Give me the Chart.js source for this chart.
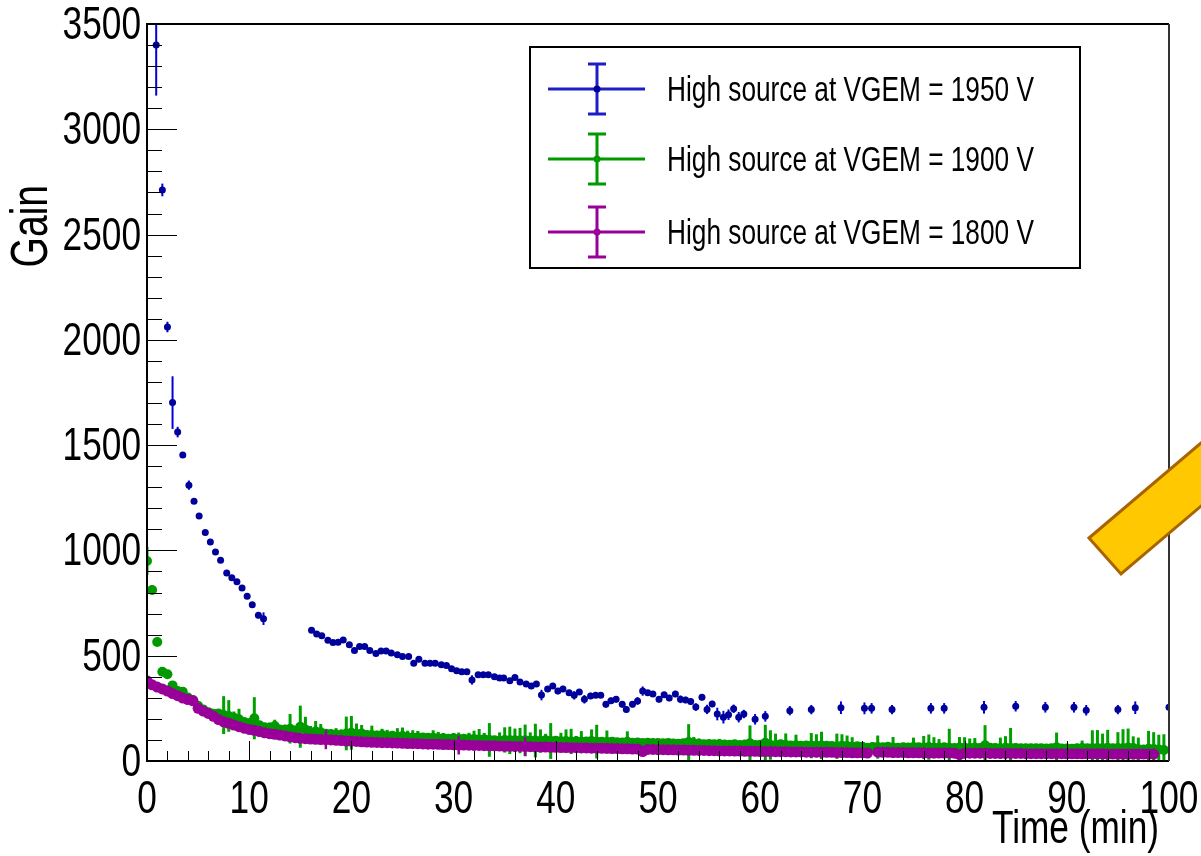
<!DOCTYPE html>
<html>
<head>
<meta charset="utf-8">
<script src="https://cdn.jsdelivr.net/npm/chart.js@4.4.1/dist/chart.umd.min.js"></script>
<style>
  html, body { margin: 0; padding: 0; background: #fff; }
  canvas { display: block; }
</style>
</head>
<body>
<canvas id="gainChart" width="1201" height="856"></canvas>
<script>
const FONT = '"Liberation Sans", Arial, sans-serif';
const NARROW = 0.75; // squeeze Liberation Sans to look like the narrow ROOT font

const seriesLabels = ['High source at VGEM = 1950 V', 'High source at VGEM = 1900 V', 'High source at VGEM = 1800 V'];
const xTicks = [0, 10, 20, 30, 40, 50, 60, 70, 80, 90, 100];
const yTicks = [0, 500, 1000, 1500, 2000, 2500, 3000, 3500];

// 1950 V
const time1950 = [0.9, 1.5, 2.0, 2.5, 3.0, 3.5, 4.1, 4.6, 5.1, 5.7, 6.2, 6.7, 7.2, 7.8, 8.3, 8.8, 9.3, 9.8, 10.3, 10.9, 11.4,
  16.1, 16.6, 17.1, 17.7, 18.2, 18.7, 19.2, 19.8, 20.3, 20.8, 21.3, 21.8, 22.4, 22.9, 23.4, 23.9, 24.5, 25.0, 25.6, 26.1,
  26.6, 27.2, 27.7, 28.2, 28.8, 29.3, 29.8, 30.3, 30.8, 31.3, 31.8, 32.4, 32.9, 33.4, 34.0, 34.5, 34.9, 35.5, 36.0, 36.5,
  37.1, 37.6, 38.1, 38.6, 39.2, 39.7, 40.2, 40.7, 41.3, 41.8, 42.3, 42.8, 43.4, 43.9, 44.4, 44.9, 45.4, 45.9, 46.5, 46.9,
  47.5, 48.0, 48.5, 49.0, 49.5, 50.1, 50.6, 51.1, 51.7, 52.2, 52.7, 53.2, 53.7, 54.3, 54.8, 55.3, 55.8, 56.4, 56.9, 57.4,
  57.9, 58.4, 59.5, 60.5,
  62.9, 65.0, 67.9, 70.2, 70.9, 72.9, 76.7, 78.0, 81.9, 85.0, 87.9, 90.7, 91.9, 95.0, 96.7, 100.0];
const gain1950 = [3400, 2712, 2061, 1702, 1562, 1453, 1310, 1234, 1164, 1085, 1040, 993, 953, 893, 870, 851, 822, 782, 742, 692, 676,
  621, 603, 595, 573, 563, 564, 575, 552, 525, 544, 544, 525, 510, 522, 522, 513, 505, 496, 496, 464,
  483, 464, 464, 464, 457, 453, 438, 429, 424, 424, 385, 410, 410, 410, 400, 394, 394, 381, 396, 375,
  366, 356, 366, 313, 342, 356, 332, 342, 324, 312, 328, 293, 309, 312, 312, 269, 286, 293, 269, 245,
  269, 285, 332, 324, 318, 293, 315, 299, 318, 293, 290, 282, 256, 303, 245, 271, 223, 208, 220, 248,
  208, 223, 198, 212,
  239, 244, 253, 250, 250, 244, 250, 250, 255, 260, 255, 255, 241, 244, 253, 255];
const err1950 = [240, 30, 25, 125, 25, 12, 22, 12, 10, 10, 10, 10, 10, 10, 10, 10, 10, 10, 10, 15, 30,
  10, 10, 10, 10, 10, 10, 10, 10, 10, 10, 10, 10, 10, 10, 10, 10, 10, 10, 10, 10,
  10, 10, 10, 10, 10, 10, 10, 10, 10, 10, 22, 12, 12, 10, 12, 10, 12, 12, 10, 10,
  12, 12, 10, 25, 12, 12, 15, 15, 12, 20, 12, 20, 15, 12, 12, 15, 15, 15, 15, 15,
  15, 18, 22, 12, 12, 15, 12, 15, 15, 18, 15, 15, 18, 15, 22, 15, 30, 30, 25, 20,
  25, 20, 25, 25,
  22, 22, 30, 28, 25, 22, 25, 25, 30, 25, 25, 25, 25, 22, 30, 22];

// 1900 V and 1800 V share the same time steps
const timeLow = [0, 0.5, 1, 1.5, 2, 2.5, 3, 3.5, 4, 4.5,
  5, 5.5, 6, 6.5, 7, 7.5, 8, 8.5, 9, 9.5,
  10, 10.5, 11, 11.5, 12, 12.5, 13, 13.5, 14, 14.5,
  15, 15.5, 16, 16.5, 17, 17.5, 18, 18.5, 19, 19.5,
  20, 20.5, 21, 21.5, 22, 22.5, 23, 23.5, 24, 24.5,
  25, 25.5, 26, 26.5, 27, 27.5, 28, 28.5, 29, 29.5,
  30, 30.5, 31, 31.5, 32, 32.5, 33, 33.5, 34, 34.5,
  35, 35.5, 36, 36.5, 37, 37.5, 38, 38.5, 39, 39.5,
  40, 40.5, 41, 41.5, 42, 42.5, 43, 43.5, 44, 44.5,
  45, 45.5, 46, 46.5, 47, 47.5, 48, 48.5, 49, 49.5,
  50, 50.5, 51, 51.5, 52, 52.5, 53, 53.5, 54, 54.5,
  55, 55.5, 56, 56.5, 57, 57.5, 58, 58.5, 59, 59.5,
  60, 60.5, 61, 61.5, 62, 62.5, 63, 63.5, 64, 64.5,
  65, 65.5, 66, 66.5, 67, 67.5, 68, 68.5, 69, 69.5,
  70, 70.5, 71, 71.5, 72, 72.5, 73, 73.5, 74, 74.5,
  75, 75.5, 76, 76.5, 77, 77.5, 78, 78.5, 79, 79.5,
  80, 80.5, 81, 81.5, 82, 82.5, 83, 83.5, 84, 84.5,
  85, 85.5, 86, 86.5, 87, 87.5, 88, 88.5, 89, 89.5,
  90, 90.5, 91, 91.5, 92, 92.5, 93, 93.5, 94, 94.5,
  95, 95.5, 96, 96.5, 97, 97.5, 98, 98.5, 99, 99.5];

const gain1900 = [950, 812, 565, 424, 412, 359, 332, 329, 301, 290,
  262, 245, 232, 224, 226, 218, 214, 205, 198, 185,
  180, 203, 170, 160, 158, 166, 150, 148, 153, 145,
  163, 150, 136, 140, 136, 130, 128, 126, 125, 131,
  134, 128, 131, 124, 123, 120, 123, 118, 120, 116,
  119, 114, 111, 113, 112, 110, 111, 108, 108, 106,
  108, 105, 106, 104, 104, 102, 103, 100, 98, 96,
  100, 98, 99, 97, 98, 96, 97, 95, 99, 95,
  96, 94, 95, 93, 94, 92, 93, 95, 92, 91,
  90, 92, 89, 88, 91, 87, 88, 86, 87, 85,
  85, 84, 86, 83, 82, 84, 90, 84, 82, 80,
  81, 79, 80, 78, 77, 79, 76, 78, 84, 76,
  77, 87, 76, 75, 80, 76, 74, 75, 73, 74,
  73, 72, 74, 72, 71, 70, 72, 71, 68, 70,
  68, 56, 67, 66, 65, 68, 64, 63, 65, 64,
  66, 65, 64, 66, 63, 64, 65, 63, 62, 64,
  63, 62, 64, 62, 75, 63, 62, 61, 63, 62,
  62, 61, 60, 61, 60, 60, 59, 60, 65, 59,
  59, 58, 60, 62, 60, 61, 62, 60, 63, 60,
  62, 61, 64, 62, 56, 55, 58, 57, 55, 52];
const err1900 = [66, 20, 15, 15, 15, 12, 10, 10, 10, 10,
  10, 10, 12, 15, 20, 90, 75, 30, 50, 20,
  15, 100, 20, 20, 25, 30, 20, 25, 70, 20,
  100, 60, 30, 50, 40, 20, 20, 30, 25, 80,
  80, 50, 40, 20, 45, 25, 30, 30, 20, 40,
  40, 30, 35, 30, 20, 20, 35, 30, 25, 20,
  25, 30, 20, 30, 40, 50, 30, 80, 20, 40,
  60, 65, 55, 60, 75, 40, 80, 55, 30, 85,
  20, 40, 55, 60, 25, 50, 20, 55, 80, 20,
  55, 20, 15, 20, 50, 20, 15, 10, 20, 15,
  15, 20, 15, 20, 15, 20, 85, 30, 25, 20,
  15, 20, 25, 15, 15, 20, 15, 20, 85, 20,
  20, 85, 70, 55, 20, 55, 20, 50, 20, 20,
  60, 55, 65, 20, 20, 60, 55, 50, 45, 15,
  15, 30, 15, 55, 20, 20, 50, 20, 15, 20,
  45, 20, 55, 60, 50, 40, 20, 90, 15, 50,
  50, 45, 45, 20, 95, 20, 20, 50, 55, 95,
  20, 15, 15, 20, 15, 20, 15, 15, 70, 15,
  15, 15, 20, 35, 15, 85, 85, 70, 85, 20,
  75, 90, 90, 55, 55, 20, 85, 80, 70, 75];

const gain1800 = [381, 362, 351, 342, 332, 320, 310, 299, 292, 286,
  250, 237, 226, 212, 197, 186, 179, 171, 163, 156,
  150, 146, 140, 134, 130, 127, 123, 119, 115, 111,
  108, 106, 104, 103, 102, 101, 100, 98, 97, 95,
  94, 93, 91, 90, 89, 88, 87, 87, 86, 85,
  84, 83, 83, 82, 81, 80, 80, 79, 78, 78,
  77, 76, 76, 75, 74, 74, 73, 72, 72, 71,
  70, 70, 69, 69, 68, 68, 67, 66, 66, 65,
  65, 64, 64, 63, 63, 62, 62, 61, 61, 60,
  60, 59, 59, 58, 58, 57, 57, 45, 55, 55,
  54, 54, 53, 53, 52, 52, 51, 51, 50, 50,
  49, 49, 48, 48, 48, 47, 47, 46, 46, 46,
  45, 45, 45, 44, 44, 44, 43, 43, 43, 42,
  42, 42, 41, 41, 41, 40, 40, 40, 39, 39,
  39, 38, null, 42, 41, 41, 40, 40, 40, 39,
  39, 39, 39, 38, 38, 38, 38, 38, 37, 30,
  37, 37, 37, 37, 37, 36, 36, 36, 36, 36,
  36, 36, 35, 35, 35, 35, 35, 35, 35, 35,
  34, 34, 34, 34, 34, 34, 34, 34, 33, 33,
  33, 33, 33, 33, 33, 33, 33, 33];
const err1800 = [12, 10, 10, 10, 10, 8, 8, 8, 8, 8,
  8, 8, 8, 8, 8, 8, 8, 8, 8, 8,
  8, 8, 8, 8, 8, 8, 8, 8, 6, 6,
  6, 6, 6, 6, 6, 45, 6, 6, 6, 6,
  6, 6, 6, 6, 6, 6, 6, 6, 6, 6,
  6, 6, 6, 6, 6, 6, 6, 6, 6, 6,
  6, 45, 6, 6, 6, 6, 6, 6, 6, 6,
  6, 6, 6, 6, 45, 6, 6, 6, 6, 6,
  6, 6, 6, 6, 6, 6, 6, 6, 6, 6,
  6, 6, 6, 6, 6, 6, 6, 10, 6, 6,
  6, 6, 6, 6, 6, 6, 6, 6, 6, 6,
  6, 6, 6, 6, 6, 6, 6, 6, 6, 6,
  6, 6, 6, 6, 6, 6, 6, 6, 6, 6,
  6, 6, 6, 6, 6, 6, 6, 6, 6, 6,
  6, 6, 6, 6, 6, 6, 6, 6, 6, 6,
  6, 6, 6, 6, 6, 6, 6, 6, 6, 10,
  6, 6, 6, 6, 6, 6, 6, 6, 6, 6,
  6, 6, 6, 6, 6, 6, 6, 6, 6, 6,
  6, 6, 6, 6, 6, 6, 6, 6, 6, 6,
  6, 6, 6, 6, 6, 6, 6, 6];

function points(times, values) {
  return values.map((v, i) => ({ x: times[i], y: v }));
}

// text squeezed horizontally (there is no narrow Helvetica installed)
function narrowText(ctx, text, x, y, size, align, baseline, angle) {
  ctx.save();
  ctx.translate(x, y);
  if (angle) ctx.rotate(angle);
  ctx.scale(NARROW, 1);
  ctx.font = size + 'px ' + FONT;
  ctx.textAlign = align;
  ctx.textBaseline = baseline;
  ctx.fillStyle = '#000';
  ctx.fillText(text, 0, 0);
  ctx.restore();
}

// vertical error bars, drawn just under each dataset's markers
const errorBars = {
  id: 'errorBars',
  beforeDatasetDraw(chart, args) {
    const ds = chart.data.datasets[args.index];
    const { ctx, chartArea: a, scales: { x, y } } = chart;
    ctx.save();
    ctx.beginPath();
    ctx.rect(a.left, a.top, a.right - a.left, a.bottom - a.top);
    ctx.clip();
    ctx.strokeStyle = ds.errColor;
    ctx.lineWidth = ds.errWidth;
    ds.data.forEach((p, i) => {
      if (p.y == null) return;
      const e = ds.errors[i];
      const px = x.getPixelForValue(p.x);
      ctx.beginPath();
      ctx.moveTo(px, y.getPixelForValue(p.y - e));
      ctx.lineTo(px, y.getPixelForValue(p.y + e));
      ctx.stroke();
    });
    ctx.restore();
  }
};

// ROOT-like frame with inward ticks and tick labels
const frame = {
  id: 'frame',
  afterDatasetsDraw(chart) {
    const { ctx, chartArea: a, scales: { x, y } } = chart;
    ctx.save();
    ctx.strokeStyle = '#000';
    ctx.lineWidth = 1;
    for (let v = 0; v <= 3500; v += 100) {
      const py = Math.round(y.getPixelForValue(v)) + 0.5;
      const len = v % 500 === 0 ? 30 : 15;
      ctx.beginPath(); ctx.moveTo(a.left, py); ctx.lineTo(a.left + len, py); ctx.stroke();
    }
    for (let v = 0; v <= 100; v += 2) {
      const px = Math.round(x.getPixelForValue(v)) + 0.5;
      const len = v % 10 === 0 ? 20 : 10;
      ctx.beginPath(); ctx.moveTo(px, a.bottom); ctx.lineTo(px, a.bottom - len); ctx.stroke();
    }
    ctx.lineWidth = 2;
    ctx.beginPath();
    ctx.moveTo(a.right, a.top); ctx.lineTo(a.left, a.top); ctx.lineTo(a.left, a.bottom); ctx.lineTo(a.right, a.bottom);
    ctx.stroke();
    ctx.strokeStyle = '#333';
    ctx.beginPath(); ctx.moveTo(a.right, a.top); ctx.lineTo(a.right, a.bottom); ctx.stroke();
    ctx.restore();

    yTicks.forEach(v => narrowText(ctx, String(v), a.left - 6, y.getPixelForValue(v) + 2, 47, 'right', 'middle'));
    xTicks.forEach(v => narrowText(ctx, String(v), x.getPixelForValue(v), 800, 47, 'center', 'middle'));
  }
};

const decorations = {
  id: 'decorations',
  afterDraw(chart) {
    const { ctx } = chart;
    // axis titles
    narrowText(ctx, 'Time (min)', 1159, 843, 47, 'right', 'alphabetic');
    narrowText(ctx, 'Gain', 47, 185, 52, 'right', 'alphabetic', -Math.PI / 2);

    // legend
    ctx.save();
    ctx.fillStyle = '#fff';
    ctx.fillRect(530, 47, 550, 221);
    ctx.strokeStyle = '#000';
    ctx.lineWidth = 2;
    ctx.strokeRect(530, 47, 550, 221);
    const rows = [89, 159, 232];
    chart.data.datasets.forEach((ds, i) => {
      const ry = rows[i];
      ctx.strokeStyle = ds.legendColor;
      ctx.lineWidth = 3;
      ctx.beginPath(); ctx.moveTo(548, ry); ctx.lineTo(645, ry); ctx.stroke();
      ctx.beginPath();
      ctx.moveTo(597, ry - 25); ctx.lineTo(597, ry + 25);
      ctx.moveTo(588, ry - 25); ctx.lineTo(606, ry - 25);
      ctx.moveTo(588, ry + 25); ctx.lineTo(606, ry + 25);
      ctx.stroke();
      ctx.fillStyle = ds.pointBackgroundColor;
      ctx.beginPath(); ctx.arc(597, ry, 3.5, 0, Math.PI * 2); ctx.fill();
      narrowText(ctx, seriesLabels[i], 667, ry + 2, 35, 'left', 'middle');
    });

    // yellow arrow bar at the right edge
    const ax = 1089, ay = 538, bx = 1121, by = 574;
    const dx = 0.7626 * 300, dy = -0.6469 * 300;
    ctx.beginPath();
    ctx.moveTo(ax, ay); ctx.lineTo(bx, by); ctx.lineTo(bx + dx, by + dy); ctx.lineTo(ax + dx, ay + dy);
    ctx.closePath();
    ctx.fillStyle = '#ffc800';
    ctx.fill();
    ctx.strokeStyle = '#a86400';
    ctx.lineWidth = 3;
    ctx.stroke();
    ctx.restore();
  }
};

new Chart(document.getElementById('gainChart').getContext('2d'), {
  type: 'scatter',
  data: {
    datasets: [
      {
        label: seriesLabels[0],
        data: points(time1950, gain1950),
        errors: err1950,
        errColor: '#0000dd',
        errWidth: 2,
        legendColor: '#1e1ec8',
        pointRadius: 3.5,
        pointBackgroundColor: '#00009a',
        pointBorderWidth: 0,
        order: 3
      },
      {
        label: seriesLabels[1],
        data: points(timeLow, gain1900),
        errors: err1900,
        errColor: '#00a000',
        errWidth: 3,
        legendColor: '#009900',
        pointRadius: 5,
        pointBackgroundColor: '#009900',
        pointBorderWidth: 0,
        order: 2
      },
      {
        label: seriesLabels[2],
        data: points(timeLow, gain1800),
        errors: err1800,
        errColor: '#990099',
        errWidth: 2.5,
        legendColor: '#990099',
        pointRadius: 5.5,
        pointBackgroundColor: '#990099',
        pointBorderWidth: 0,
        order: 1
      }
    ]
  },
  options: {
    responsive: false,
    animation: false,
    layout: { padding: { left: 0, right: 32, top: 24, bottom: 0 } },
    plugins: {
      legend: { display: false },
      tooltip: { enabled: false },
      title: { display: false }
    },
    scales: {
      x: {
        type: 'linear',
        min: 0,
        max: 100,
        grid: { display: false, drawTicks: false },
        border: { display: false },
        afterBuildTicks: (scale) => { scale.ticks = xTicks.map(v => ({ value: v })); },
        afterFit: (scale) => { scale.height = 95; },
        ticks: { display: false }
      },
      y: {
        type: 'linear',
        min: 0,
        max: 3500,
        grid: { display: false, drawTicks: false },
        border: { display: false },
        afterBuildTicks: (scale) => { scale.ticks = yTicks.map(v => ({ value: v })); },
        afterFit: (scale) => { scale.width = 147; },
        ticks: { display: false }
      }
    }
  },
  plugins: [errorBars, frame, decorations]
});
</script>
</body>
</html>
